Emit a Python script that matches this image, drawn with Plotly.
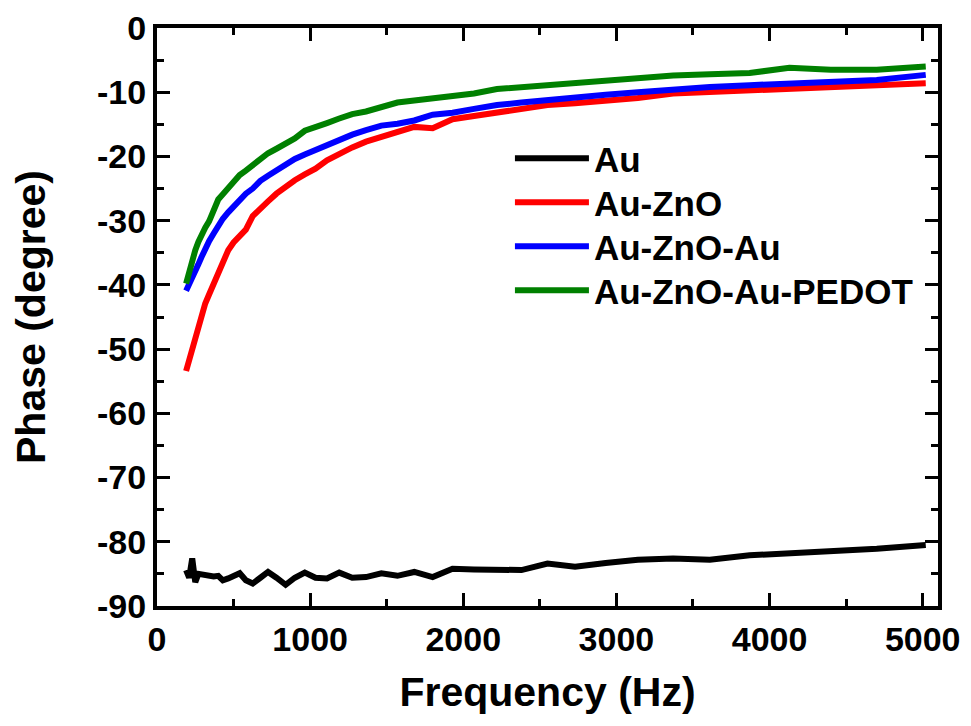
import plotly.graph_objects as go

freq = [190, 210, 230, 250, 270, 290, 315, 340, 370, 400, 430, 465, 500, 540, 580, 625,
        675, 725, 780, 840, 900, 965, 1035, 1110, 1190, 1275, 1365, 1465, 1570, 1680,
        1800, 1930, 2070, 2220, 2380, 2550, 2730, 2930, 3140, 3370, 3610, 3870, 4130,
        4400, 4700, 5020]

au = [-84.4, -85.6, -82.6, -86.3, -85.0, -85.1, -85.2, -85.3, -85.4, -85.3, -86.0, -85.7,
      -85.2, -84.9, -86.0, -86.5, -85.6, -84.7, -85.6, -86.7, -85.6, -84.8, -85.6, -85.7,
      -84.8, -85.6, -85.5, -84.9, -85.3, -84.7, -85.5, -84.2, -84.3, -84.4, -84.4, -83.4,
      -83.9, -83.3, -82.8, -82.6, -82.8, -82.1, -81.8, -81.5, -81.1, -80.5]

au_zno = [-53.4, -51.6, -49.7, -48.1, -46.5, -44.9, -42.9, -41.5, -39.8, -38.0, -36.2, -34.6,
          -33.4, -32.3, -31.4, -29.3, -28.3, -27.0, -25.8, -24.7, -23.7, -22.8, -21.9, -20.6,
          -19.6, -18.6, -17.7, -17.0, -16.4, -15.4, -15.6, -14.2, -13.7, -13.2, -12.5, -12.0,
          -11.7, -11.3, -10.9, -10.2, -10.0, -9.7, -9.4, -9.2, -8.9, -8.6]

au_zno_au = [-40.9, -40.0, -39.1, -38.0, -36.8, -35.7, -34.3, -33.2, -32.0, -30.7, -29.7, -28.7,
             -27.8, -26.8, -25.8, -25.0, -23.8, -23.0, -22.1, -21.4, -20.4, -19.7, -19.0, -18.0,
             -17.3, -16.6, -15.9, -15.2, -14.9, -14.4, -13.5, -13.2, -12.6, -12.0, -11.6, -11.3,
             -10.9, -10.4, -10.0, -9.5, -9.2, -8.9, -8.7, -8.5, -8.1, -7.3]

au_zno_au_pedot = [-39.8, -37.9, -35.9, -34.6, -33.3, -32.2, -31.1, -30.1, -28.4, -26.7, -25.9,
                   -24.9, -24.0, -22.9, -22.2, -21.4, -20.3, -19.5, -18.8, -18.1, -17.2, -16.0,
                   -15.5, -14.8, -14.1, -13.4, -13.0, -12.4, -11.6, -11.3, -11.0, -10.5, -10.2,
                   -9.5, -9.2, -8.8, -8.5, -8.1, -7.7, -7.4, -7.2, -7.0, -6.2, -6.5, -6.5, -6.0]

x_ticks = [0, 1000, 2000, 3000, 4000, 5000]
y_ticks = [0, -10, -20, -30, -40, -50, -60, -70, -80, -90]
y_tick_labels = ["0", "-10", "-20", "-30", "-40", "-50", "-60", "-70", "-80", "-90"]

names = ["Au", "Au-ZnO", "Au-ZnO-Au", "Au-ZnO-Au-PEDOT"]
colors = ["#000000", "#FF0000", "#0000FF", "#008000"]
series = [au, au_zno, au_zno_au, au_zno_au_pedot]
legend_ids = ["legend", "legend2", "legend3", "legend4"]
legend_y = [0.8253, 0.7491, 0.6730, 0.5969]

FONT = "Liberation Sans, Arial, sans-serif"

fig = go.Figure()
for n, c, s, lg in zip(names, colors, series, legend_ids):
    fig.add_trace(go.Scatter(x=freq, y=s, mode="lines", name=n, legend=lg,
                             line=dict(color=c, width=6)))

axis_common = dict(
    showline=True, linewidth=4, linecolor="black", mirror="ticks",
    ticks="inside", ticklen=13, tickwidth=3, tickcolor="black",
    showgrid=False, zeroline=False,
    tickfont=dict(family=FONT, size=34, color="black", weight="bold"),
)

fig.update_xaxes(range=[0, 5100], tickvals=x_ticks, ticktext=[str(v) for v in x_ticks],
                 minor=dict(dtick=500, tick0=0, ticks="inside", ticklen=7, tickwidth=3, tickcolor="black"),
                 title=dict(text="Frequency (Hz)", font=dict(family=FONT, size=41, color="black", weight="bold"), standoff=22),
                 **axis_common)
fig.update_yaxes(range=[-90, 0], tickvals=y_ticks, ticktext=y_tick_labels,
                 minor=dict(dtick=5, tick0=0, ticks="inside", ticklen=7, tickwidth=3, tickcolor="black"),
                 title=dict(text="Phase (degree)", font=dict(family=FONT, size=41, color="black", weight="bold"), standoff=40),
                 **axis_common)

legend_common = dict(x=0.4519, xanchor="left", yanchor="top",
                     font=dict(family=FONT, size=35, color="black", weight="bold"),
                     bgcolor="rgba(0,0,0,0)", itemwidth=74)

layout_legends = {lg: dict(y=ly, **legend_common) for lg, ly in zip(legend_ids, legend_y)}

fig.update_layout(
    width=971, height=726,
    margin=dict(l=157, r=33, t=28, b=120, autoexpand=False),
    plot_bgcolor="white", paper_bgcolor="white",
    showlegend=True,
    **layout_legends,
)

fig.write_html("out.html")
